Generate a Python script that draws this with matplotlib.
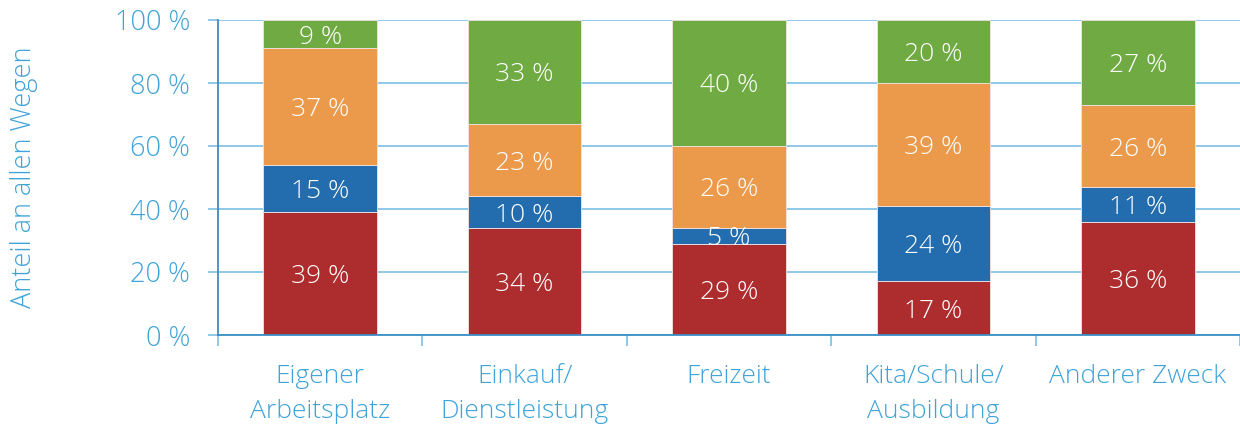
import numpy as np
import matplotlib.pyplot as plt
from matplotlib.ticker import FixedLocator

plt.rcParams['font.family'] = ['Open Sans', 'DejaVu Sans']

# Daten: Anteil an allen Wegen je Wegezweck (von unten nach oben)
categories = ['Eigener\nArbeitsplatz', 'Einkauf/\nDienstleistung', 'Freizeit',
              'Kita/Schule/\nAusbildung', 'Anderer Zweck']
red_vals = [39, 34, 29, 17, 36]
blue_vals = [15, 10, 5, 24, 11]
orange_vals = [37, 23, 26, 39, 26]
green_vals = [9, 33, 40, 20, 27]

series = [red_vals, blue_vals, orange_vals, green_vals]
colors = ['#ad2d2f', '#236cad', '#eb9a4b', '#6faa43']

text_col = '#3fa3d9'
grid_col = '#7dbfe4'
axis_col = '#3a8fc6'

fig = plt.figure(figsize=(12.4, 4.25), dpi=100)
ax = fig.add_axes([218 / 1240, 90 / 425, 1 - 218 / 1240, 315 / 425])

x = np.arange(len(categories))
bottom = np.zeros(len(categories))
for vals, col in zip(series, colors):
    vals = np.array(vals)
    ax.bar(x, vals, bottom=bottom, width=0.555, color=col,
           edgecolor='#f3e3e3', linewidth=0.6, zorder=3)
    for xi, b, v in zip(x, bottom, vals):
        ax.text(xi, b + v / 2, f'{v} %', ha='center', va='center_baseline',
                color='white', fontsize=19, fontweight='light', zorder=4)
    bottom += vals

ax.set_xlim(-0.5, len(categories) - 0.5)
ax.set_ylim(0, 100)

ax.set_yticks(np.arange(0, 101, 20))
ax.set_yticklabels([f'{v} %' for v in range(0, 101, 20)])
ax.yaxis.grid(True, color=grid_col, linewidth=1.2, zorder=0)
ax.tick_params(axis='y', length=7, width=1.2, color=grid_col, pad=13,
               labelsize=19.5, labelcolor=text_col)

ax.set_xticks(x)
ax.set_xticklabels(categories, linespacing=1.5)
ax.tick_params(axis='x', which='major', length=0, pad=21,
               labelsize=19, labelcolor=text_col)
ax.xaxis.set_minor_locator(FixedLocator(np.arange(-0.5, len(categories), 1.0)))
ax.tick_params(axis='x', which='minor', length=8, width=1.2, color=grid_col)
for lbl in ax.get_xticklabels() + ax.get_yticklabels():
    lbl.set_fontweight('light')

for s in ['top', 'right']:
    ax.spines[s].set_visible(False)
for s in ['left', 'bottom']:
    ax.spines[s].set_color(axis_col)
    ax.spines[s].set_linewidth(1.3)
    ax.spines[s].set_zorder(5)

ax.set_ylabel('Anteil an allen Wegen', color=text_col, fontsize=19.5,
              fontweight='light', labelpad=55)

fig.savefig('out.png', dpi=100)
